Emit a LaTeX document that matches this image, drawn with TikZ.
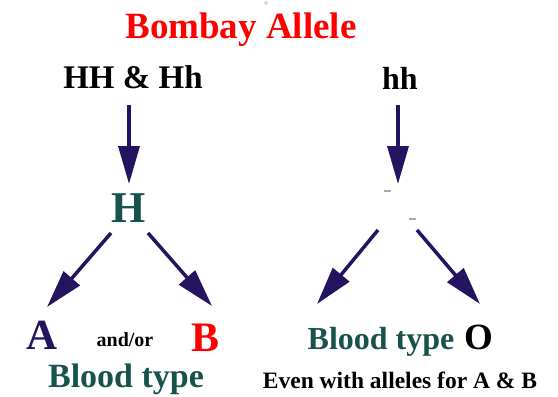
\documentclass[tikz,border=0pt]{standalone}
\usepackage{fontspec}
\setmainfont{Liberation Serif}
\usetikzlibrary{arrows.meta}
\definecolor{navy}{RGB}{36,20,96}
\definecolor{teal2}{RGB}{24,82,76}
\definecolor{red2}{RGB}{255,0,0}
\tikzset{
  lbl/.style={anchor=base, inner sep=0pt, font=\bfseries},
  arr/.style={draw=navy, line width=3.5pt, -{Triangle[length=38pt,width=21pt,fill=navy]}},
  speck/.style={draw=gray!70, line width=1.2pt}
}
\begin{document}
\begin{tikzpicture}[x=1pt,y=-1pt]
\useasboundingbox (0,0) rectangle (558,397);
\node[lbl, text=red2, font=\bfseries\fontsize{37}{40}\selectfont] (title) at (241,38) {Bombay Allele};
\node[draw=gray!60, circle, inner sep=0pt, minimum size=3pt, line width=0.5pt] (dot) at (266,3) {};
\node[lbl, font=\bfseries\fontsize{33}{36}\selectfont] (HH) at (133,88) {HH \& Hh};
\node[lbl, font=\bfseries\fontsize{32}{36}\selectfont] (hh) at (400,89) {hh};
\node[lbl, text=teal2, font=\bfseries\fontsize{44}{48}\selectfont] (H) at (129,222) {H};
\node[lbl, text=navy, font=\bfseries\fontsize{43}{48}\selectfont] (A) at (42,349) {A};
\node[lbl, font=\bfseries\fontsize{20}{24}\selectfont] (andor) at (125,346) {and/or};
\node[lbl, text=red2, font=\bfseries\fontsize{42}{48}\selectfont] (B) at (206,351) {B};
\node[lbl, text=teal2, font=\bfseries\fontsize{34}{40}\selectfont] (bt1) at (126,387) {Blood type};
\node[lbl, text=teal2, font=\bfseries\fontsize{32}{36}\selectfont] (bt2) at (381,349) {Blood type};
\node[lbl, font=\bfseries\fontsize{37}{40}\selectfont] (O) at (479,349) {O};
\node[lbl, font=\bfseries\fontsize{23.5}{28}\selectfont] (even) at (400,388) {Even with alleles for A \& B};
% arrow endpoints
\coordinate (l0) at (129,105); \coordinate (l1) at (129,184);
\coordinate (r0) at (398,105); \coordinate (r1) at (398,184);
\coordinate (ha) at (111,233); \coordinate (ta) at (47,307);
\coordinate (hb) at (148,233); \coordinate (tb) at (212,306);
\coordinate (oa) at (378,230); \coordinate (ua) at (317,304);
\coordinate (ob) at (417,230); \coordinate (ub) at (480,304);
\draw[arr] (l0) -- (l1);
\draw[arr] (r0) -- (r1);
\draw[arr] (ha) -- (ta);
\draw[arr] (hb) -- (tb);
\draw[arr] (oa) -- (ua);
\draw[arr] (ob) -- (ub);
\coordinate (s1a) at (384,191); \coordinate (s1b) at (391,191);
\coordinate (s2a) at (409,219); \coordinate (s2b) at (416,219);
\draw[speck] (s1a) -- (s1b);
\draw[speck] (s2a) -- (s2b);
\end{tikzpicture}
\end{document}
